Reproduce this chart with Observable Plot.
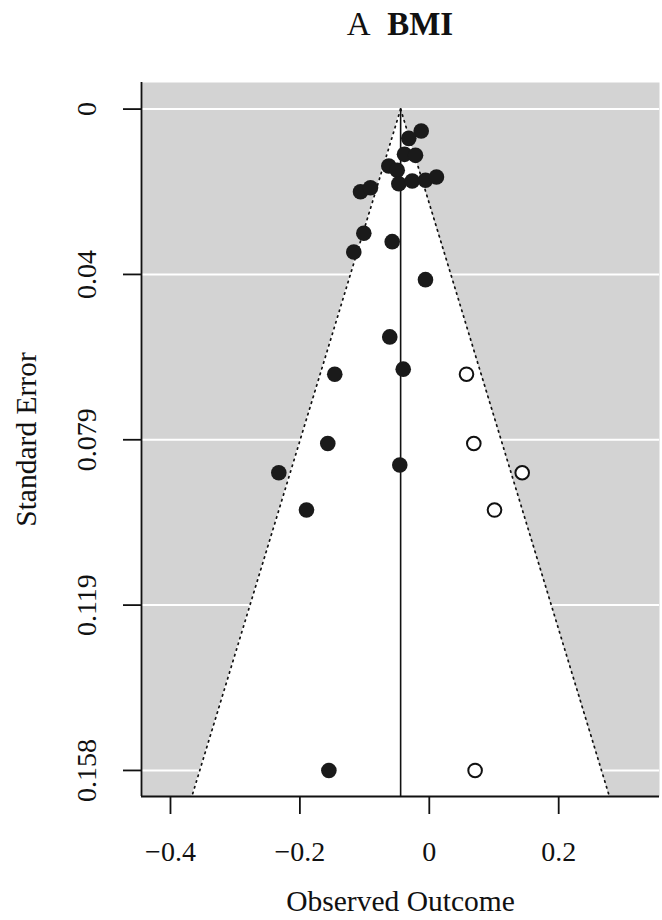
<!DOCTYPE html>
<html>
<head>
<meta charset="utf-8">
<script src="https://cdn.jsdelivr.net/npm/d3@7"></script>
<script src="https://cdn.jsdelivr.net/npm/@observablehq/plot@0.6"></script>
<style>
  html, body { margin: 0; padding: 0; background: #fff; }
  #title { width: 662px; height: 60px; box-sizing: border-box; padding-top: 8px; padding-left: 138px;
           text-align: center; font-family: "Liberation Serif", serif; font-size: 33px; line-height: 32px; color: #111; }
  #title b { font-weight: bold; }
  svg { display: block; overflow: visible; }
</style>
</head>
<body>
<div id="title">A&nbsp; <b>BMI</b></div>
<div id="chart"></div>
<script>
// Observed studies (filled) — effect (observed outcome) and standard error
const obsEffect = [-0.0125, -0.0317, -0.0383, -0.0213, -0.0626, -0.0496, -0.0471, -0.0264, -0.0059, 0.0111,
                   -0.1063, -0.0909, -0.1012, -0.1167, -0.0573, -0.0059, -0.0611, -0.1461, -0.0403, -0.1569,
                   -0.2326, -0.0456, -0.1898, -0.1552];
const obsSE     = [0.00526, 0.00701, 0.01084, 0.01108, 0.01364, 0.01467, 0.01788, 0.01723, 0.01706, 0.01627,
                   0.01979, 0.01883, 0.02974, 0.03422, 0.03175, 0.04085, 0.05456, 0.06349, 0.06229, 0.08009,
                   0.0871, 0.08526, 0.09603, 0.1584];
// Imputed studies (open, trim-and-fill)
const fillEffect = [0.0575, 0.0688, 0.1436, 0.1008, 0.0708];
const fillSE     = [0.06349, 0.08009, 0.0871, 0.09603, 0.1584];
// Pooled estimate
const estimate = -0.0443;
// Axis ticks
const yTickValues = [0, 0.0396, 0.0792, 0.1188, 0.1584];
const yTickLabels = ["0", "0.04", "0.079", "0.119", "0.158"];
const xTickValues = [-0.4, -0.2, 0, 0.2];
const xTickLabels = ["\u22120.4", "\u22120.2", "0", "0.2"];
const xDomain = [-0.4448, 0.3558];
const yDomain = [-0.00637, 0.16464];

const observed = obsEffect.map((e, i) => ({effect: e, se: obsSE[i]}));
const filled = fillEffect.map((e, i) => ({effect: e, se: fillSE[i]}));
const ymax = yDomain[1];
const funnel = [
  {se: 0, lo: estimate, hi: estimate},
  {se: ymax, lo: estimate - 1.96 * ymax, hi: estimate + 1.96 * ymax}
];
const yTicks = yTickValues.map((v, i) => ({v, label: yTickLabels[i]}));
const xTicks = xTickValues.map((v, i) => ({v, label: xTickLabels[i]}));

const font = "Liberation Serif";
const chart = Plot.plot({
  width: 662,
  height: 860,
  marginTop: 22,
  marginBottom: 124,
  marginLeft: 141,
  marginRight: 3,
  style: {fontFamily: font, background: "#fff"},
  x: {domain: xDomain, axis: null},
  y: {domain: yDomain, reverse: true, axis: null},
  marks: [
    Plot.frame({fill: "#d3d3d3", stroke: null}),
    Plot.ruleY(yTickValues, {stroke: "white", strokeWidth: 2}),
    Plot.areaX(funnel, {y: "se", x1: "lo", x2: "hi", fill: "white"}),
    Plot.line(funnel, {x: "lo", y: "se", stroke: "#111", strokeWidth: 1.7, strokeDasharray: "1.5,4.5"}),
    Plot.line(funnel, {x: "hi", y: "se", stroke: "#111", strokeWidth: 1.7, strokeDasharray: "1.5,4.5"}),
    Plot.ruleX([estimate], {y1: 0, y2: ymax, stroke: "#111", strokeWidth: 1.6}),
    Plot.dot(observed, {x: "effect", y: "se", r: 7.8, fill: "#1a1a1a", stroke: "none"}),
    Plot.dot(filled, {x: "effect", y: "se", r: 6.8, fill: "white", stroke: "#111", strokeWidth: 2}),
    // axes lines
    Plot.ruleX([xDomain[0]], {stroke: "#111", strokeWidth: 1.8}),
    Plot.ruleY([yDomain[1]], {stroke: "#111", strokeWidth: 1.8}),
    // tick marks
    Plot.axisY({ticks: yTickValues, tickSize: 18, tickFormat: () => "", stroke: "#111", strokeWidth: 1.8}),
    Plot.axisX({ticks: xTickValues, tickSize: 18, tickFormat: () => "", stroke: "#111", strokeWidth: 1.8}),
    // tick labels
    Plot.text(yTicks, {y: "v", text: "label", frameAnchor: "left", dx: -54, rotate: -90,
      fontSize: 28, fill: "#111", textAnchor: "middle", lineAnchor: "middle"}),
    Plot.text(xTicks, {x: "v", text: "label", frameAnchor: "bottom", dy: 56,
      fontSize: 28, fill: "#111", textAnchor: "middle", lineAnchor: "middle"}),
    // axis titles
    Plot.text(["Standard Error"], {frameAnchor: "left", dx: -115, rotate: -90,
      fontSize: 29.5, fill: "#111", textAnchor: "middle", lineAnchor: "middle"}),
    Plot.text(["Observed Outcome"], {frameAnchor: "bottom", dy: 105,
      fontSize: 29.5, fill: "#111", textAnchor: "middle", lineAnchor: "middle"})
  ]
});
document.getElementById("chart").appendChild(chart);
</script>
</body>
</html>
